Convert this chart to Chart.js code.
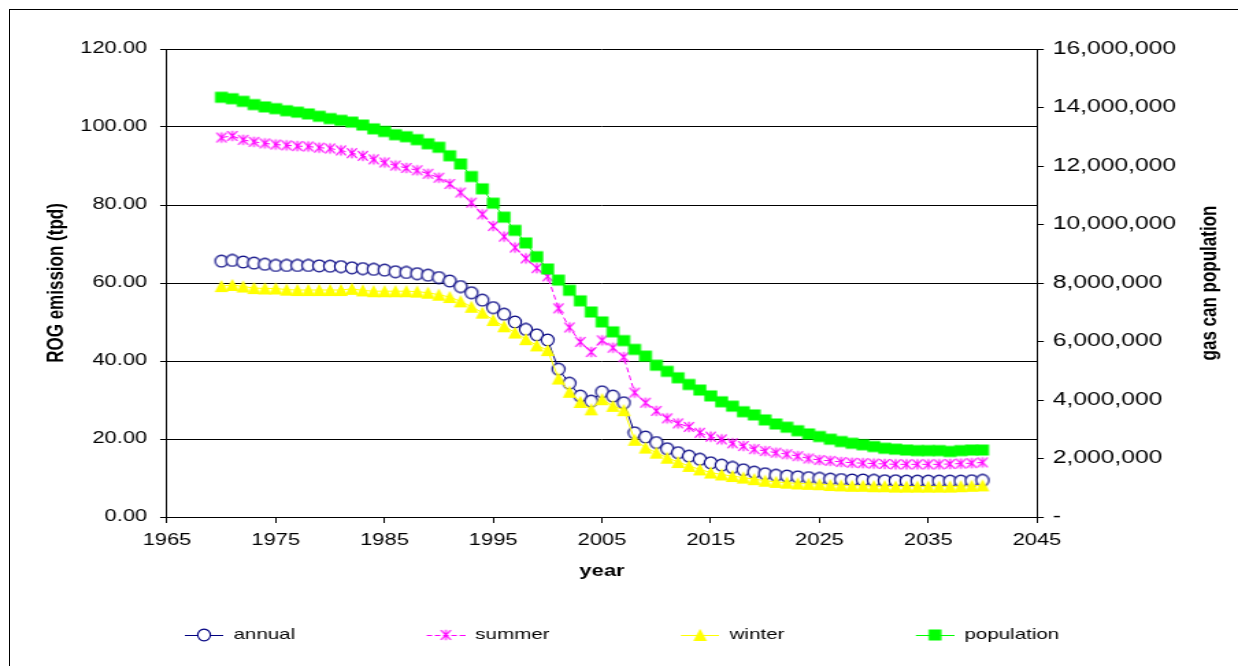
<!DOCTYPE html>
<html>
<head>
<meta charset="utf-8">
<title>ROG emission and gas can population</title>
<script src="https://cdn.jsdelivr.net/npm/chart.js@4/dist/chart.umd.min.js"></script>
<style>
  html, body { margin: 0; padding: 0; background: #fff; overflow: hidden; }
  #wrap { position: relative; width: 1238px; height: 666px; }
  #frame { position: absolute; left: 9px; top: 9px; width: 1300px; height: 700px;
           border: 1px solid #000; pointer-events: none; }
</style>
</head>
<body>
<div id="wrap">
  <!-- drawn at 904 px wide and stretched to 1238 px, like the original picture -->
  <canvas id="emissionChart" width="904" height="666" style="width:1238px;height:666px;position:absolute;left:0;top:0"></canvas>
  <div id="frame"></div>
</div>
<script>
// years 1970 - 2040
const years = [
  1970, 1971, 1972, 1973, 1974, 1975, 1976, 1977, 1978, 1979,
  1980, 1981, 1982, 1983, 1984, 1985, 1986, 1987, 1988, 1989,
  1990, 1991, 1992, 1993, 1994, 1995, 1996, 1997, 1998, 1999,
  2000, 2001, 2002, 2003, 2004, 2005, 2006, 2007, 2008, 2009,
  2010, 2011, 2012, 2013, 2014, 2015, 2016, 2017, 2018, 2019,
  2020, 2021, 2022, 2023, 2024, 2025, 2026, 2027, 2028, 2029,
  2030, 2031, 2032, 2033, 2034, 2035, 2036, 2037, 2038, 2039, 2040
];

// ROG emission (tpd)
const annual = [
  65.6, 65.8, 65.4, 65.1, 64.8, 64.5, 64.5, 64.5, 64.5, 64.4,
  64.3, 64.2, 63.9, 63.7, 63.5, 63.3, 62.9, 62.7, 62.4, 62.0,
  61.4, 60.5, 59.1, 57.5, 55.6, 53.7, 52.0, 50.0, 48.1, 46.7,
  45.4, 37.9, 34.3, 31.0, 29.7, 32.1, 31.0, 29.3, 21.6, 20.5,
  19.1, 17.5, 16.5, 15.6, 14.8, 13.9, 13.3, 12.7, 12.1, 11.5,
  11.1, 10.7, 10.5, 10.3, 10.1, 9.9, 9.7, 9.6, 9.5, 9.5,
  9.4, 9.3, 9.3, 9.2, 9.2, 9.2, 9.2, 9.2, 9.2, 9.3, 9.4
];
const summer = [
  97.3, 97.7, 96.7, 96.2, 95.8, 95.5, 95.3, 95.1, 95.0, 94.7,
  94.5, 94.0, 93.3, 92.6, 91.7, 90.9, 90.1, 89.5, 88.9, 88.0,
  87.0, 85.4, 83.2, 80.6, 77.6, 74.6, 71.9, 69.1, 66.3, 63.8,
  61.7, 53.5, 48.6, 44.9, 42.3, 45.3, 43.4, 41.0, 31.9, 29.3,
  27.2, 25.3, 24.0, 23.1, 21.6, 20.6, 19.9, 18.9, 18.2, 17.4,
  16.9, 16.5, 16.1, 15.6, 15.0, 14.6, 14.4, 14.1, 13.9, 13.8,
  13.7, 13.6, 13.5, 13.5, 13.5, 13.5, 13.5, 13.6, 13.7, 13.8, 14.0
];
const winter = [
  59.2, 59.5, 59.1, 58.7, 58.6, 58.6, 58.3, 58.2, 58.2, 58.2,
  58.2, 58.2, 58.5, 58.1, 57.9, 57.9, 57.9, 57.9, 57.8, 57.5,
  57.0, 56.4, 55.3, 53.9, 52.4, 50.5, 48.9, 47.3, 45.6, 44.0,
  42.8, 35.5, 32.1, 29.5, 27.6, 30.2, 28.5, 27.4, 19.8, 17.8,
  16.5, 15.2, 14.1, 13.1, 12.2, 11.4, 10.9, 10.5, 10.1, 9.7,
  9.3, 9.0, 8.8, 8.6, 8.5, 8.4, 8.2, 8.1, 8.0, 8.0,
  7.9, 7.9, 7.8, 7.8, 7.8, 7.8, 7.8, 7.8, 7.9, 8.0, 8.1
];
// gas can population
const population = [
  14350000, 14300000, 14210000, 14100000, 14020000, 13960000, 13890000, 13840000, 13780000, 13700000,
  13620000, 13560000, 13500000, 13400000, 13270000, 13180000, 13070000, 13000000, 12900000, 12760000,
  12640000, 12350000, 12070000, 11640000, 11220000, 10730000, 10250000, 9800000, 9370000, 8900000,
  8480000, 8100000, 7750000, 7390000, 7010000, 6670000, 6330000, 6030000, 5730000, 5500000,
  5190000, 4980000, 4760000, 4530000, 4340000, 4140000, 3940000, 3790000, 3600000, 3490000,
  3320000, 3180000, 3070000, 2950000, 2840000, 2750000, 2660000, 2580000, 2520000, 2470000,
  2410000, 2350000, 2320000, 2290000, 2270000, 2270000, 2270000, 2240000, 2270000, 2290000, 2290000
];

const seriesNames = ['annual', 'summer', 'winter', 'population'];
const seriesColors = ['#000080', '#FF00FF', '#FFFF00', '#00FF00'];

const FONT = '"Liberation Sans", Arial, sans-serif';
Chart.defaults.font.family = FONT;
Chart.defaults.color = '#000';

// little canvases used as markers (drawn narrow, the canvas stretch widens them)
function makeIcon(w, h, draw) {
  const c = document.createElement('canvas');
  c.width = w;
  c.height = h;
  draw(c.getContext('2d'), w, h);
  return c;
}

function drawMarker(ctx, i, cx, cy) {
  ctx.save();
  if (i === 0) {
    ctx.beginPath();
    ctx.ellipse(cx, cy, 4.6, 5.9, 0, 0, Math.PI * 2);
    ctx.fillStyle = '#fff';
    ctx.fill();
    ctx.strokeStyle = seriesColors[0];
    ctx.lineWidth = 1.1;
    ctx.stroke();
  } else if (i === 1) {
    ctx.strokeStyle = seriesColors[1];
    ctx.lineWidth = 1.1;
    ctx.beginPath();
    ctx.moveTo(cx - 3.6, cy - 4.8); ctx.lineTo(cx + 3.6, cy + 4.8);
    ctx.moveTo(cx + 3.6, cy - 4.8); ctx.lineTo(cx - 3.6, cy + 4.8);
    ctx.moveTo(cx, cy - 5.3); ctx.lineTo(cx, cy + 5.3);
    ctx.stroke();
  } else if (i === 2) {
    ctx.fillStyle = seriesColors[2];
    ctx.beginPath();
    ctx.moveTo(cx, cy - 6.2);
    ctx.lineTo(cx + 5, cy + 6);
    ctx.lineTo(cx - 5, cy + 6);
    ctx.closePath();
    ctx.fill();
  } else {
    ctx.fillStyle = seriesColors[3];
    ctx.fillRect(cx - 4.7, cy - 5.5, 9.4, 11);
  }
  ctx.restore();
}

const pointIcons = seriesNames.map((n, i) => makeIcon(12, 14, (ctx, w, h) => drawMarker(ctx, i, w / 2, h / 2)));

const LEG_W = 114;   // legend box, sample line sits in its right 28 px
const legendIcons = seriesNames.map((n, i) => makeIcon(LEG_W, 14, (ctx, w, h) => {
  ctx.strokeStyle = seriesColors[i];
  ctx.lineWidth = 1;
  if (i === 1) ctx.setLineDash([4, 2]);
  ctx.beginPath();
  ctx.moveTo(w - 28, 7.5);
  ctx.lineTo(w, 7.5);
  ctx.stroke();
  ctx.setLineDash([]);
  drawMarker(ctx, i, w - 14, 7);
}));

const seriesData = [annual, summer, winter, population];

const datasets = seriesNames.map((name, i) => ({
  label: name,
  data: years.map((yr, k) => ({ x: yr, y: seriesData[i][k] })),
  yAxisID: i === 3 ? 'y2' : 'y',
  borderColor: seriesColors[i],
  borderWidth: 1,
  borderDash: i === 1 ? [5, 3] : [],
  pointStyle: pointIcons[i],
  pointRadius: 5,
  tension: 0,
  fill: false,
  order: 4 - i
}));

// right axis title reads bottom to top like the left one
const rightTitle = {
  id: 'rightTitle',
  afterDraw(chart, args, opts) {
    const { ctx, chartArea } = chart;
    ctx.save();
    ctx.translate(opts.x, (chartArea.top + chartArea.bottom) / 2);
    ctx.rotate(-Math.PI / 2);
    ctx.font = 'bold 17px ' + FONT;
    ctx.fillStyle = '#000';
    ctx.textAlign = 'center';
    ctx.textBaseline = 'middle';
    ctx.fillText(opts.text, 0, 0);
    ctx.restore();
  }
};

const tickFont = { family: FONT, size: 16 };
const PAD_LEFT = 39;

const config = {
  type: 'line',
  data: { datasets },
  plugins: [rightTitle],
  options: {
    responsive: false,
    devicePixelRatio: 1,
    animation: false,
    layout: { padding: { top: 49, bottom: 13.5, left: PAD_LEFT, right: 0 } },
    plugins: {
      tooltip: { enabled: false },
      rightTitle: { text: 'gas can population', x: 883.5 },
      legend: {
        position: 'bottom',
        align: 'start',
        labels: {
          usePointStyle: true,
          pointStyleWidth: LEG_W,
          padding: 10,
          color: '#000',
          font: { family: FONT, size: 15 },
          generateLabels: chart => chart.data.datasets.map((ds, i) => ({
            text: ds.label,
            pointStyle: legendIcons[i],
            fillStyle: seriesColors[i],
            strokeStyle: seriesColors[i],
            lineWidth: 0,
            fontColor: '#000',
            hidden: false,
            datasetIndex: i
          }))
        }
      }
    },
    scales: {
      x: {
        type: 'linear',
        min: 1965,
        max: 2045,
        ticks: { stepSize: 10, callback: v => String(v), font: tickFont, color: '#000', padding: 8, maxRotation: 0, autoSkip: false },
        grid: { drawOnChartArea: false, color: '#000', tickLength: 6 },
        border: { color: '#000' },
        title: { display: true, text: 'year', color: '#000', font: { family: FONT, size: 16, weight: 'bold' }, padding: { top: 0, bottom: 35.9 } },
        afterFit: s => { s.height = 100.5; }
      },
      y: {
        position: 'left',
        min: 0,
        max: 120,
        ticks: { stepSize: 20, callback: v => v.toFixed(2), font: tickFont, color: '#000', padding: 9.5 },
        grid: { color: '#000', tickLength: 5 },
        border: { color: '#000' },
        title: { display: true, text: 'ROG emission (tpd)', color: '#000', font: { family: FONT, size: 17, weight: 'bold' }, padding: { top: 40.9 - PAD_LEFT - 10.2, bottom: 0 } },
        afterFit: s => { s.width = 121.95 - PAD_LEFT; }
      },
      y2: {
        position: 'right',
        min: 0,
        max: 16000000,
        ticks: { stepSize: 2000000, callback: v => v === 0 ? '-' : v.toLocaleString('en-US'), font: { family: FONT, size: 18 }, color: '#000', padding: 6.5 },
        grid: { drawOnChartArea: false, color: '#000', tickLength: 5 },
        border: { color: '#000' },
        afterFit: s => { s.width = 904 - 757.2; }
      }
    }
  }
};

const emissionChart = new Chart(document.getElementById('emissionChart'), config);
</script>
</body>
</html>
